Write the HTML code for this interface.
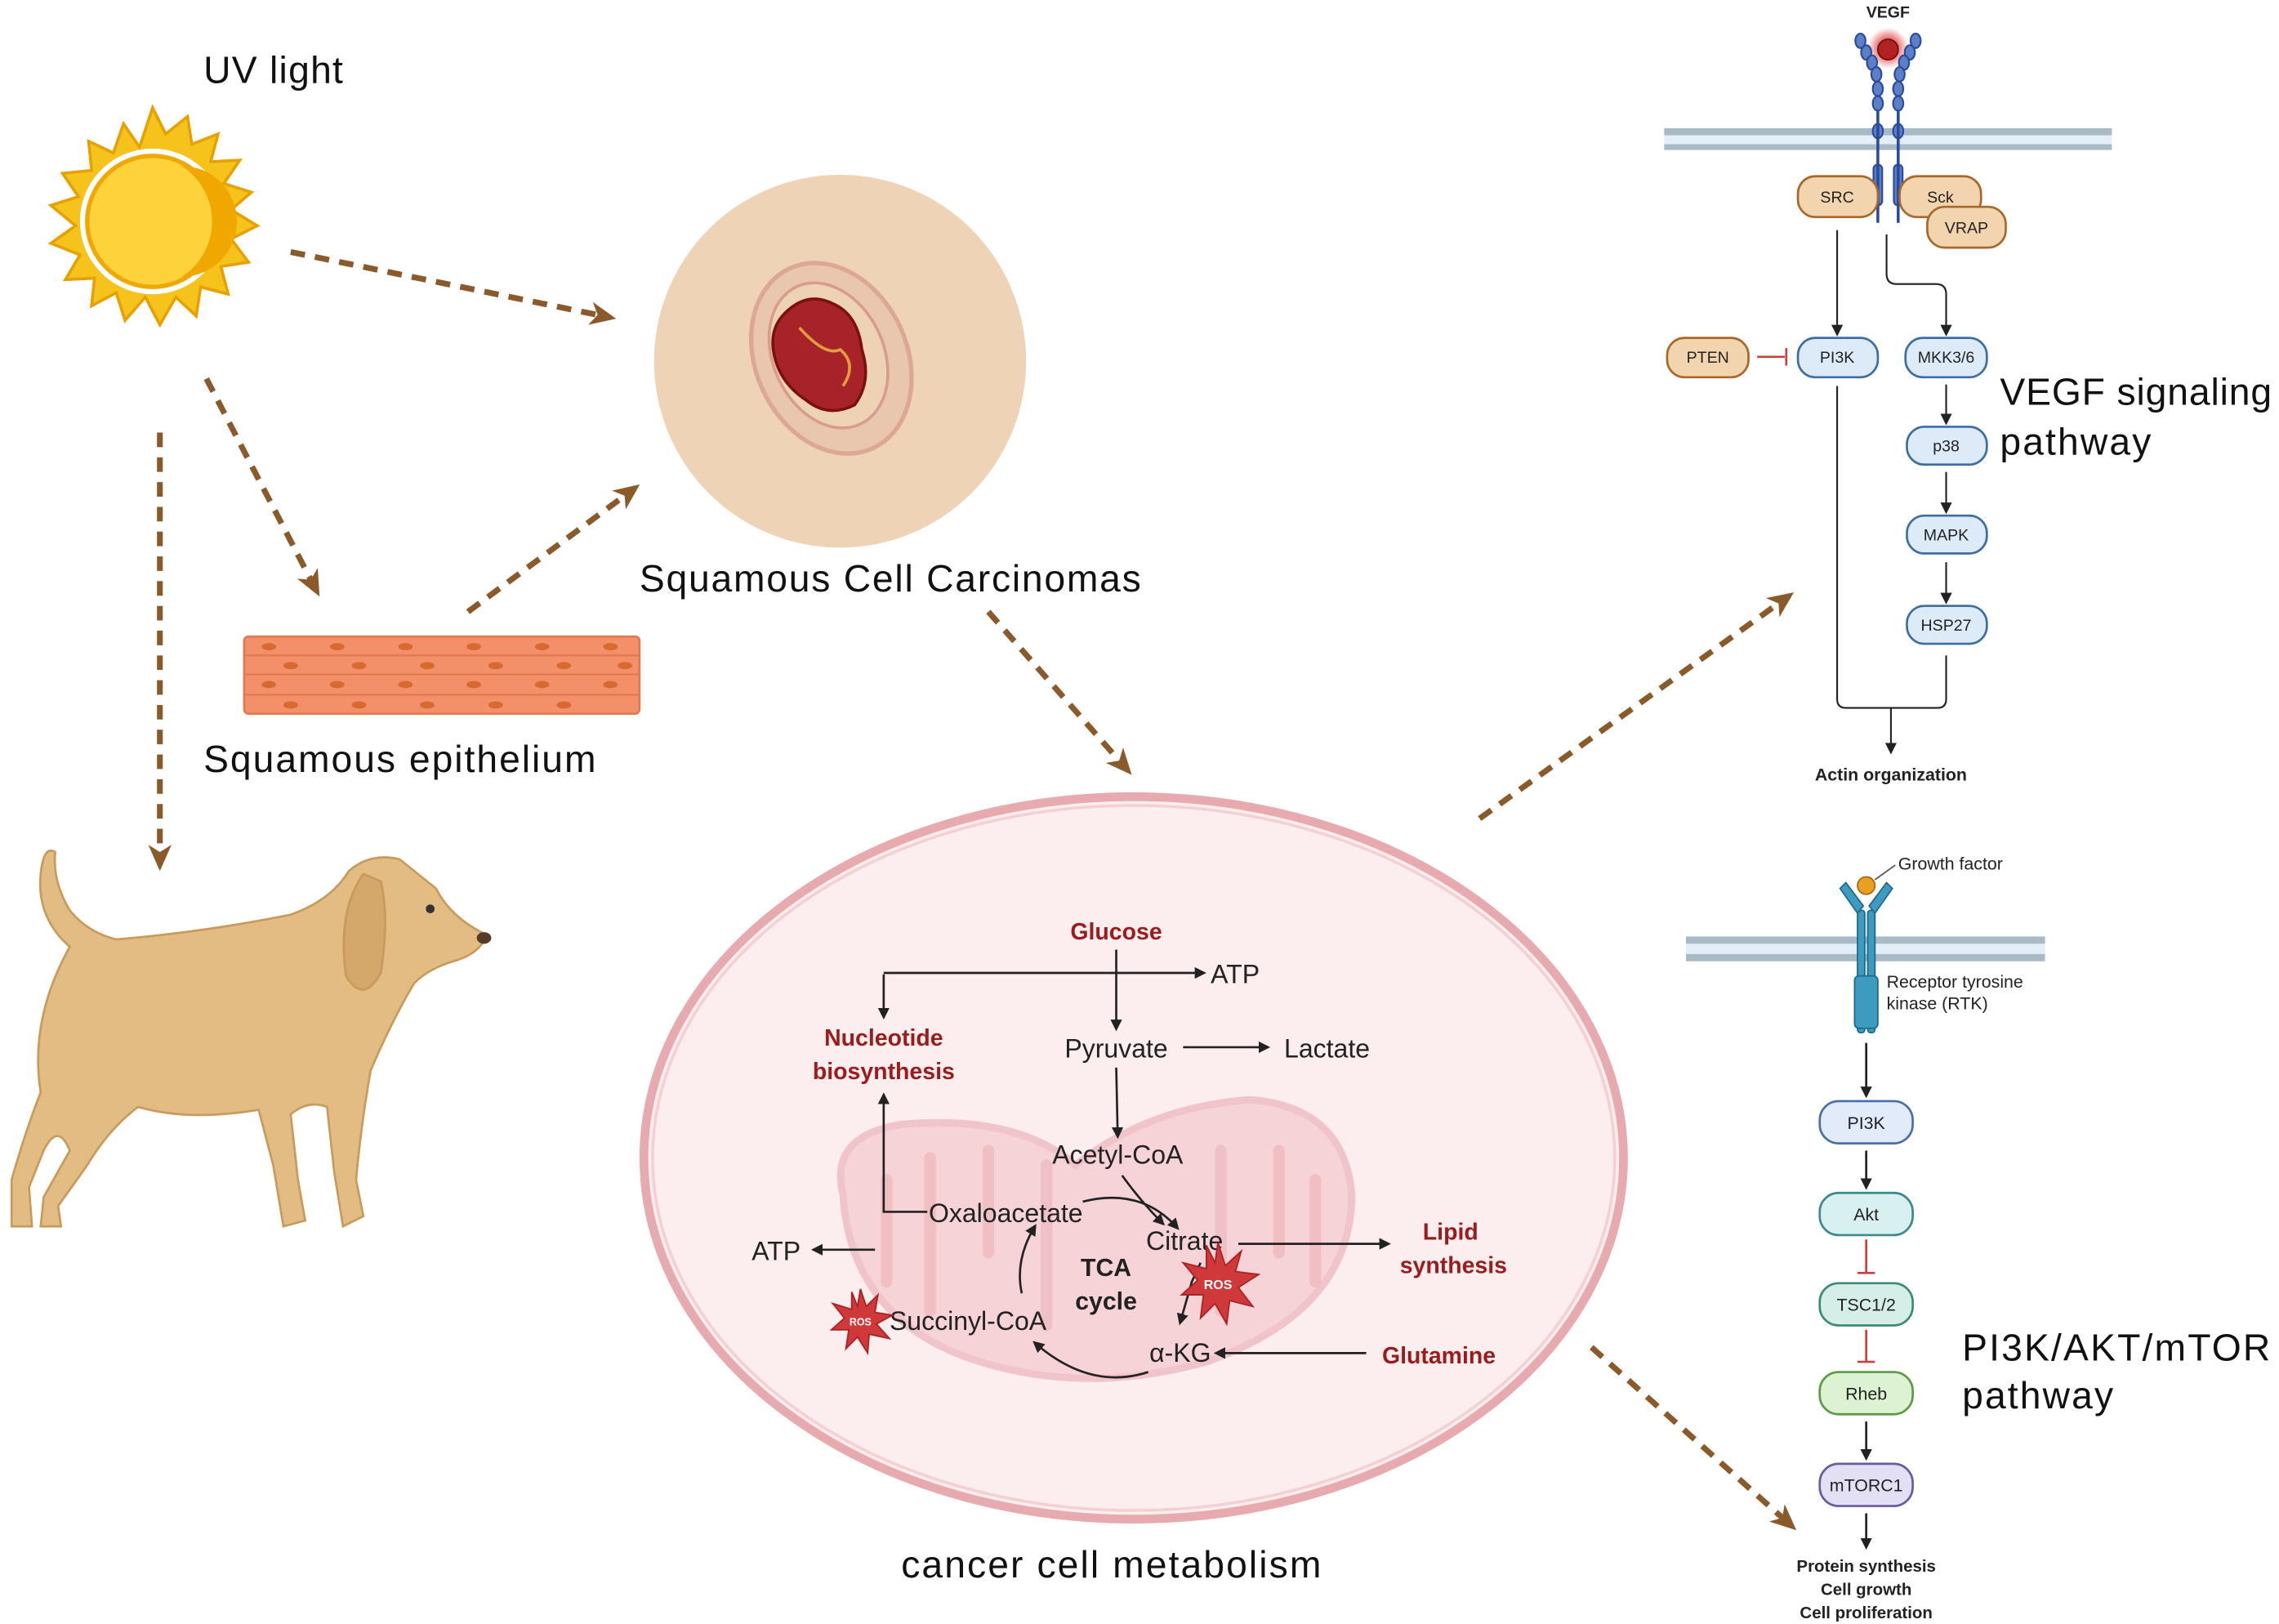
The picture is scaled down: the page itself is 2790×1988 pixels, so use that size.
<!DOCTYPE html>
<html><head><meta charset="utf-8"><style>html,body{margin:0;padding:0;background:#fff}svg{display:block}</style></head><body>
<svg width="2790" height="1988" viewBox="0 0 1568 1115" preserveAspectRatio="none" xmlns="http://www.w3.org/2000/svg" font-family="Liberation Sans, sans-serif">
<defs>
<marker id="ab" markerWidth="8" markerHeight="8" refX="6" refY="4" orient="auto" markerUnits="userSpaceOnUse"><path d="M0,0 L8,4 L0,8z" fill="#222"/></marker>
<marker id="br" markerWidth="18" markerHeight="16" refX="14" refY="8" orient="auto" markerUnits="userSpaceOnUse"><path d="M0,0 L18,8 L0,16 L5,8z" fill="#8B5A2B"/></marker>
<radialGradient id="glow"><stop offset="0.4" stop-color="#e03030" stop-opacity="0.8"/><stop offset="1" stop-color="#e03030" stop-opacity="0"/></radialGradient>
</defs>
<rect width="1568" height="1115" fill="#fff"/>
<!-- UV -->
<text x="140" y="57" font-size="26" fill="#111" textLength="96">UV light</text>
<g transform="translate(105,152)">
<polygon fill="#F6C21C" stroke="#E6A000" stroke-width="2" points="0,-78 9,-60 24,-72 27,-53 45,-60 40,-41 60,-42 49,-26 68,-20 54,-8 72,3 54,12 66,28 47,31 52,50 33,45 30,65 16,52 5,71 -5,52 -19,68 -25,49 -42,58 -40,39 -60,40 -50,23 -70,15 -53,3 -70,-11 -51,-17 -62,-33 -42,-35 -44,-55 -27,-47 -20,-67 -9,-51"/>
<circle r="50" fill="#fff"/><circle r="45" fill="#FDD23A" stroke="#F0A800" stroke-width="3"/>
<path d="M20,-38 A45,45 0 0 1 20,38 A38,38 0 0 0 20,-38z" fill="#F0A800"/>
</g>
<!-- dashed brown arrows -->
<g stroke="#8B5A2B" stroke-width="4" stroke-dasharray="10,7" fill="none" marker-end="url(#br)">
<line x1="200" y1="173" x2="420" y2="218"/>
<line x1="142" y1="260" x2="218" y2="406"/>
<line x1="110" y1="297" x2="110" y2="594"/>
<line x1="322" y1="420" x2="437" y2="335"/>
<line x1="680" y1="420" x2="776" y2="529"/>
<line x1="1018" y1="562" x2="1231" y2="409"/>
<line x1="1095" y1="925" x2="1233" y2="1048"/>
</g>
<!-- skin -->
<circle cx="578" cy="248" r="128" fill="#EED3B7"/>
<ellipse cx="572" cy="246" rx="52" ry="68" transform="rotate(-25 572 246)" fill="#E9C6AE" stroke="#DCA895" stroke-width="3"/>
<ellipse cx="570" cy="244" rx="38" ry="52" transform="rotate(-25 570 244)" fill="#EDD2B4" stroke="#D99C8C" stroke-width="2"/>
<path d="M540,215 Q555,200 572,208 Q590,215 593,240 Q600,262 588,278 Q570,287 555,275 Q535,262 532,240 Q530,225 540,215z" fill="#A8222A" stroke="#7a1010" stroke-width="2"/>
<path d="M550,225 Q568,245 578,240 Q590,250 580,265" stroke="#E0A040" stroke-width="2" fill="none"/>
<text x="440" y="406" font-size="26" fill="#111" textLength="345">Squamous Cell Carcinomas</text>
<!-- epithelium -->
<rect x="168" y="437" width="272" height="53" rx="3" fill="#F3906A" stroke="#E07850" stroke-width="1.5"/>
<g stroke="#E3764E" stroke-width="1.2" fill="none">
<line x1="168" y1="450" x2="440" y2="450"/><line x1="168" y1="463" x2="440" y2="463"/><line x1="168" y1="477" x2="440" y2="477"/>
</g>
<g fill="#D86A30">
<ellipse cx="185" cy="444" rx="5" ry="2.5"/><ellipse cx="232" cy="444" rx="5" ry="2.5"/><ellipse cx="279" cy="444" rx="5" ry="2.5"/><ellipse cx="326" cy="444" rx="5" ry="2.5"/><ellipse cx="373" cy="444" rx="5" ry="2.5"/><ellipse cx="420" cy="444" rx="5" ry="2.5"/>
<ellipse cx="200" cy="457" rx="5" ry="2.5"/><ellipse cx="247" cy="457" rx="5" ry="2.5"/><ellipse cx="294" cy="457" rx="5" ry="2.5"/><ellipse cx="341" cy="457" rx="5" ry="2.5"/><ellipse cx="388" cy="457" rx="5" ry="2.5"/><ellipse cx="430" cy="457" rx="5" ry="2.5"/>
<ellipse cx="185" cy="470" rx="5" ry="2.5"/><ellipse cx="232" cy="470" rx="5" ry="2.5"/><ellipse cx="279" cy="470" rx="5" ry="2.5"/><ellipse cx="326" cy="470" rx="5" ry="2.5"/><ellipse cx="373" cy="470" rx="5" ry="2.5"/><ellipse cx="420" cy="470" rx="5" ry="2.5"/>
<ellipse cx="200" cy="484" rx="5" ry="2.5"/><ellipse cx="247" cy="484" rx="5" ry="2.5"/><ellipse cx="294" cy="484" rx="5" ry="2.5"/><ellipse cx="341" cy="484" rx="5" ry="2.5"/><ellipse cx="388" cy="484" rx="5" ry="2.5"/>
</g>
<text x="140" y="530" font-size="26" fill="#111" textLength="270">Squamous epithelium</text>
<!-- dog -->
<g fill="#E2BC82" stroke="#C89A5C" stroke-width="1.5">
<path d="M48,650 Q25,630 28,600 Q30,580 38,585 Q36,605 48,625 Q60,640 80,645 Q140,640 200,628 Q228,618 240,598 Q255,585 275,590 L300,610 Q310,630 335,642 Q330,655 312,660 Q295,665 285,675 Q270,700 255,735 Q248,775 245,810 L250,835 L236,842 L230,805 L225,760 Q212,755 200,765 L205,810 L210,838 L195,842 L188,800 L178,762 Q130,770 95,760 Q75,775 60,800 L40,828 L42,842 L28,842 L30,822 L48,790 Q40,770 30,790 L20,815 L22,842 L8,842 L8,810 Q18,775 28,750 Q20,700 48,650 Z"/>
<path d="M250,600 Q232,625 238,670 Q250,690 262,668 Q268,630 262,605z" fill="#D4A86A"/>
</g>
<circle cx="296" cy="624" r="3" fill="#333"/><ellipse cx="333" cy="644" rx="5" ry="4" fill="#5a3a2a"/>
<!-- cell -->
<ellipse cx="780" cy="795" rx="337" ry="248" fill="#FCEDEE" stroke="#E7AAAE" stroke-width="6"/>
<ellipse cx="780" cy="795" rx="331" ry="242" fill="none" stroke="#F4D0D2" stroke-width="2"/>
<path d="M580,820 Q570,780 620,772 Q700,765 740,800 Q790,760 860,755 Q925,760 930,820 Q930,900 830,935 Q740,960 660,930 Q585,900 580,820z" fill="#F5CDD1" stroke="#EEBBC0" stroke-width="5" opacity="0.8"/>
<g stroke="#EEBBC0" stroke-width="8" fill="none" stroke-linecap="round" opacity="0.8">
<path d="M610,810 L610,880"/><path d="M640,795 L640,900"/><path d="M680,790 L680,860"/><path d="M720,800 L720,910"/><path d="M840,790 L840,900"/><path d="M880,790 L880,860"/><path d="M905,810 L905,880"/>
</g>
<g font-size="18" fill="#222" text-anchor="middle">
<text x="833" y="675" text-anchor="start">ATP</text>
<text x="768" y="726">Pyruvate</text>
<text x="913" y="726">Lactate</text>
<text x="769" y="799">Acetyl-CoA</text>
<text x="692" y="839">Oxaloacetate</text>
<text x="815" y="858">Citrate</text>
<text x="534" y="865">ATP</text>
<text x="666" y="913">Succinyl-CoA</text>
<text x="812" y="935">α-KG</text>
</g>
<g font-size="16" font-weight="bold" fill="#9B1C1C" text-anchor="middle">
<text x="768" y="645">Glucose</text>
<text x="608" y="718">Nucleotide</text><text x="608" y="741">biosynthesis</text>
<text x="998" y="851">Lipid</text><text x="1000" y="874">synthesis</text>
<text x="990" y="936">Glutamine</text>
</g>
<g font-size="17" font-weight="bold" fill="#222" text-anchor="middle"><text x="761" y="876">TCA</text><text x="761" y="899">cycle</text></g>
<g stroke="#222" stroke-width="1.5" fill="none" marker-end="url(#ab)">
<line x1="768" y1="652" x2="768" y2="706"/>
<polyline points="608,668 828,668"/>
<polyline points="608,669 608,698"/>
<line x1="814" y1="719" x2="872" y2="719"/>
<line x1="768" y1="733" x2="769" y2="780"/>
<path d="M772,807 Q785,825 800,840"/>
<path d="M745,825 Q785,815 810,843"/>
<polyline points="638,832 608,832 608,752"/>
<line x1="602" y1="858" x2="560" y2="858"/>
<line x1="852" y1="854" x2="955" y2="854"/>
<path d="M826,867 L820,880 L812,908"/>
<line x1="940" y1="929" x2="837" y2="929"/>
<path d="M790,942 Q750,955 712,922"/>
<path d="M703,888 Q698,865 712,842"/>
</g>
<!-- ROS -->
<g transform="translate(838,881)"><polygon fill="#D0393A" stroke="#A82224" points="0,-28 5,-12 16,-22 12,-8 28,-6 14,3 24,16 8,12 6,28 -2,14 -12,24 -10,8 -25,8 -14,-2 -24,-14 -8,-10 -8,-26 -2,-14"/><text y="4" font-size="9" font-weight="bold" fill="#fff" text-anchor="middle">ROS</text></g>
<g transform="translate(592,907)"><polygon fill="#D0393A" stroke="#A82224" points="0,-22 4,-10 12,-18 10,-6 22,-4 11,2 20,12 6,9 5,22 -2,11 -10,19 -8,6 -20,6 -11,-2 -19,-12 -6,-8 -6,-20 -2,-10"/><text y="3" font-size="7" font-weight="bold" fill="#fff" text-anchor="middle">ROS</text></g>
<text x="620" y="1083" font-size="26" fill="#111" textLength="289">cancer cell metabolism</text>
<!-- VEGF pathway -->
<text x="1299" y="12" font-size="11" font-weight="bold" fill="#222" text-anchor="middle">VEGF</text>
<rect x="1145" y="88" width="308" height="5" fill="#A8BAC6"/><rect x="1145" y="93" width="308" height="6" fill="#E3EEF8"/><rect x="1145" y="99" width="308" height="4" fill="#A8BAC6"/>
<circle cx="1299" cy="33" r="14" fill="url(#glow)"/>
<g fill="#5B80C8" stroke="#2A4A9A" stroke-width="1.2">
<ellipse cx="1280" cy="28" rx="3.5" ry="5"/><ellipse cx="1284" cy="36" rx="3.5" ry="5"/><ellipse cx="1288" cy="43" rx="3.5" ry="5"/><ellipse cx="1291" cy="51" rx="3.5" ry="5"/><ellipse cx="1292" cy="61" rx="3.5" ry="5"/><ellipse cx="1292" cy="71" rx="3.5" ry="5"/><ellipse cx="1292" cy="90" rx="3.5" ry="5"/>
<ellipse cx="1318" cy="28" rx="3.5" ry="5"/><ellipse cx="1314" cy="36" rx="3.5" ry="5"/><ellipse cx="1310" cy="43" rx="3.5" ry="5"/><ellipse cx="1307" cy="51" rx="3.5" ry="5"/><ellipse cx="1306" cy="61" rx="3.5" ry="5"/><ellipse cx="1306" cy="71" rx="3.5" ry="5"/><ellipse cx="1306" cy="90" rx="3.5" ry="5"/>
<rect x="1289" y="113" width="6" height="28" rx="3"/><rect x="1303" y="113" width="6" height="28" rx="3"/>
</g>
<g stroke="#2A4A9A" stroke-width="2"><line x1="1292" y1="76" x2="1292" y2="153"/><line x1="1306" y1="76" x2="1306" y2="153"/></g>
<circle cx="1299" cy="34" r="7" fill="#B22222" stroke="#6a1010"/>
<g stroke="#A8682C" stroke-width="1.5" fill="#F2D5AE">
<rect x="1237" y="121" width="55" height="28" rx="12"/>
<rect x="1307" y="121" width="56" height="28" rx="12"/>
<rect x="1326" y="142" width="54" height="28" rx="12"/>
<rect x="1147" y="232" width="56" height="27" rx="12"/>
</g>
<g stroke="#3E6EA0" stroke-width="1.5" fill="#DDEBF8">
<rect x="1237" y="232" width="55" height="27" rx="12"/>
<rect x="1311" y="232" width="56" height="27" rx="12"/>
<rect x="1312" y="293" width="55" height="26" rx="12"/>
<rect x="1312" y="354" width="55" height="26" rx="12"/>
<rect x="1312" y="416" width="55" height="26" rx="12"/>
</g>
<g font-size="11" fill="#222" text-anchor="middle">
<text x="1264" y="139">SRC</text><text x="1335" y="139">Sck</text><text x="1353" y="160">VRAP</text>
<text x="1175" y="249">PTEN</text><text x="1264" y="249">PI3K</text><text x="1339" y="249">MKK3/6</text>
<text x="1339" y="310">p38</text><text x="1339" y="371">MAPK</text><text x="1339" y="433">HSP27</text>
</g>
<line x1="1209" y1="245" x2="1228" y2="245" stroke="#C84040" stroke-width="1.5"/><line x1="1229" y1="239" x2="1229" y2="251" stroke="#C84040" stroke-width="1.5"/>
<g stroke="#222" stroke-width="1.2" fill="none" marker-end="url(#ab)">
<line x1="1264" y1="158" x2="1264" y2="229"/>
<path d="M1298,161 L1298,188 Q1298,195 1305,195 L1332,195 Q1339,195 1339,202 L1339,229"/>
<line x1="1339" y1="264" x2="1339" y2="290"/><line x1="1339" y1="324" x2="1339" y2="351"/><line x1="1339" y1="386" x2="1339" y2="413"/>
<path d="M1264,265 L1264,480 Q1264,486 1270,486 L1333,486 Q1339,486 1339,480 L1339,450" marker-end="none"/>
<line x1="1301" y1="486" x2="1301" y2="516"/>
</g>
<text x="1301" y="536" font-size="12" font-weight="bold" fill="#222" text-anchor="middle">Actin organization</text>
<text x="1376" y="278" font-size="26" fill="#111" textLength="187">VEGF signaling</text>
<text x="1376" y="312" font-size="26" fill="#111" textLength="104">pathway</text>
<!-- PI3K/AKT -->
<rect x="1160" y="643" width="247" height="5" fill="#A8BAC6"/><rect x="1160" y="648" width="247" height="7" fill="#E3EEF8"/><rect x="1160" y="655" width="247" height="5" fill="#A8BAC6"/>
<g stroke="#1F6A8A" stroke-width="1" fill="#3D9BC0">
<rect x="1278" y="625" width="5" height="84" rx="2"/><rect x="1285" y="625" width="5" height="84" rx="2"/>
<path d="M1278,627 L1266,610 L1270,606 L1282,622z"/><path d="M1290,627 L1302,610 L1298,606 L1286,622z"/>
<rect x="1276" y="670" width="16" height="36" rx="3"/>
</g>
<circle cx="1284" cy="608" r="6" fill="#E8A020" stroke="#A86A10"/>
<line x1="1290" y1="604" x2="1304" y2="594" stroke="#555" stroke-width="1"/>
<text x="1306" y="597" font-size="12" fill="#222">Growth factor</text>
<text x="1298" y="678" font-size="12" fill="#222">Receptor tyrosine</text>
<text x="1298" y="693" font-size="12" fill="#222">kinase (RTK)</text>
<g stroke-width="1.5">
<rect x="1252" y="756" width="64" height="29" rx="13" fill="#E2EBFA" stroke="#4A6FA8"/>
<rect x="1252" y="819" width="64" height="29" rx="13" fill="#D9F0F0" stroke="#3E8A8A"/>
<rect x="1252" y="881" width="64" height="29" rx="13" fill="#D5EEE8" stroke="#3E8A7A"/>
<rect x="1252" y="942" width="64" height="29" rx="13" fill="#DDF2D2" stroke="#5C9A48"/>
<rect x="1252" y="1005" width="64" height="29" rx="13" fill="#E3DFF4" stroke="#6A5AA0"/>
</g>
<g font-size="12" fill="#222" text-anchor="middle">
<text x="1284" y="775">PI3K</text><text x="1284" y="838">Akt</text><text x="1284" y="900">TSC1/2</text><text x="1284" y="961">Rheb</text><text x="1284" y="1024">mTORC1</text>
</g>
<g stroke="#222" stroke-width="1.5" marker-end="url(#ab)">
<line x1="1284" y1="716" x2="1284" y2="752"/><line x1="1284" y1="790" x2="1284" y2="815"/><line x1="1284" y1="976" x2="1284" y2="1001"/><line x1="1284" y1="1039" x2="1284" y2="1062"/>
</g>
<g stroke="#C84040" stroke-width="1.5"><line x1="1284" y1="851" x2="1284" y2="874"/><line x1="1278" y1="874" x2="1290" y2="874"/><line x1="1284" y1="913" x2="1284" y2="935"/><line x1="1278" y1="935" x2="1290" y2="935"/></g>
<g font-size="11.5" font-weight="bold" fill="#222" text-anchor="middle"><text x="1284" y="1079">Protein synthesis</text><text x="1284" y="1095">Cell growth</text><text x="1284" y="1111">Cell proliferation</text></g>
<text x="1350" y="934" font-size="26" fill="#111" textLength="212">PI3K/AKT/mTOR</text>
<text x="1350" y="967" font-size="26" fill="#111" textLength="104">pathway</text>
</svg>
</body></html>
